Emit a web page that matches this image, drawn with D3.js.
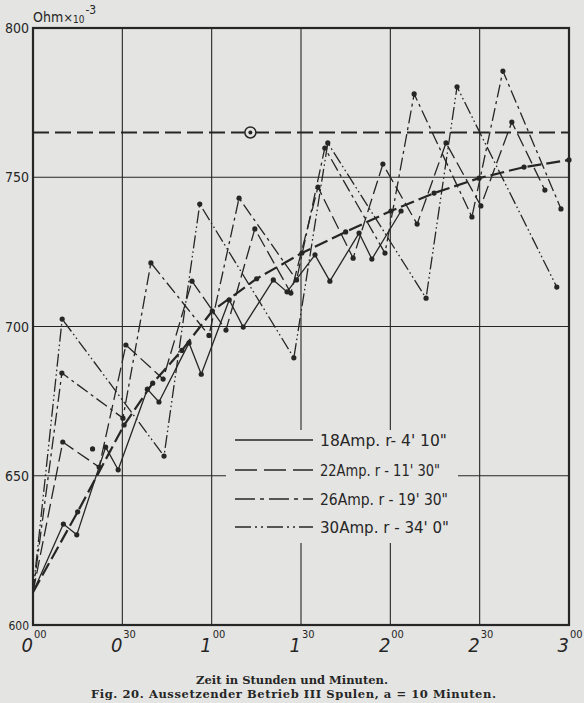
<!DOCTYPE html>
<html><head><meta charset="utf-8">
<script src="https://cdn.jsdelivr.net/npm/d3@7"></script>
<style>html,body{margin:0;padding:0;background:#e4e4e2;} svg{display:block}</style>
</head><body><svg id="c" width="584" height="703"></svg>
<script>
// ---- data ----
const yTicks = [600, 650, 700, 750, 800];
const xTicks = [0, 30, 60, 90, 120, 150, 180];
const xTickHour = ["0", "0", "1", "1", "2", "2", "3"];
const xTickMin = ["00", "30", "00", "30", "00", "30", "00"];

const t18 = [0, 10.2, 14.7, 24.4, 28.6, 38.4, 42.3, 52.4, 56.5, 65.9, 70.6, 80.7, 85.3, 94.7, 99.7, 109.5, 113.8, 123.6];
const v18 = [611, 633.8, 630.2, 659.6, 652, 679, 674.7, 694.5, 684, 708.9, 699.8, 715.6, 711.6, 724, 715.2, 731.3, 722.6, 738.7];

const t22 = [0, 10, 22.2, 31.2, 43.7, 53.4, 64.8, 74.5, 86.6, 95.7, 107.5, 117.5, 129, 138.7, 150.4, 160.8, 171.9];
const v22 = [611, 661.3, 652.9, 693.8, 682.4, 715.2, 698.8, 732.7, 711.2, 746.7, 722.9, 754.4, 734.3, 761.5, 740.4, 768.5, 745.7];

const t26 = [0, 9.7, 30.2, 39.6, 59.1, 69.2, 88.5, 98, 118.2, 128, 147.4, 157.8, 177.3];
const v26 = [611, 684.4, 669.3, 721.3, 697, 743, 715.6, 759.8, 724.6, 777.9, 736.7, 785.6, 739.4];

const t30 = [0, 9.8, 44, 56, 87.6, 99, 132, 142.4, 175.9];
const v30 = [611, 702.5, 656.6, 741, 689.5, 761.5, 709.5, 780.3, 713.2];

const tCurve = [0, 15, 30.6, 40.2, 50, 60.2, 75.1, 90.3, 105, 120.2, 134.7, 149.8, 164.9, 180];
const vCurve = [611, 637.9, 667, 681, 692, 705.2, 716, 724.6, 731.7, 738.7, 744.7, 749.7, 753.4, 755.8];

const steadyValue = 765;
const steadyMarkT = 73;
const strayT = [20];
const strayV = [659];

const legendLabels = ["18Amp. r- 4' 10\"", "22Amp. r - 11' 30\"", "26Amp. r - 19' 30\"", "30Amp. r - 34' 0\""];

// ---- drawing ----
const ink = "#262626";
const bg = "#e4e4e2";
const svg = d3.select("#c");
svg.append("rect").attr("width", 584).attr("height", 703).attr("fill", bg);

const x = d3.scaleLinear().domain([0, 180]).range([33, 569]);
const y = d3.scaleLinear().domain([600, 800]).range([625, 28]);

const g = svg.append("g");
// grid
g.selectAll(".hg").data(yTicks).join("line")
  .attr("x1", x(0)).attr("x2", x(180))
  .attr("y1", d => y(d)).attr("y2", d => y(d))
  .attr("stroke", ink).attr("stroke-width", 1.1);
g.selectAll(".vg").data(xTicks).join("line")
  .attr("x1", d => x(d)).attr("x2", d => x(d))
  .attr("y1", y(600)).attr("y2", y(800))
  .attr("stroke", ink).attr("stroke-width", 1.1);

// legend mask
svg.append("rect").attr("x", 226).attr("y", 430).attr("width", 232).attr("height", 113).attr("fill", bg);

// border
svg.append("rect").attr("x", x(0)).attr("y", y(800)).attr("width", x(180) - x(0)).attr("height", y(600) - y(800))
  .attr("fill", "none").attr("stroke", ink).attr("stroke-width", 2.2);

// steady line
svg.append("line").attr("x1", x(0)).attr("x2", x(180)).attr("y1", y(steadyValue)).attr("y2", y(steadyValue))
  .attr("stroke", ink).attr("stroke-width", 2.2).attr("stroke-dasharray", "16,6");
svg.append("circle").attr("cx", x(steadyMarkT)).attr("cy", y(steadyValue)).attr("r", 5.5)
  .attr("fill", bg).attr("stroke", ink).attr("stroke-width", 1.5);
svg.append("circle").attr("cx", x(steadyMarkT)).attr("cy", y(steadyValue)).attr("r", 2).attr("fill", ink);

const line = d3.line().x(d => x(d[0])).y(d => y(d[1]));
const zip = (a, b) => a.map((v, i) => [v, b[i]]);

const series = [
  { pts: zip(t18, v18), dash: null, w: 1.3 },
  { pts: zip(t22, v22), dash: "14,5", w: 1.3 },
  { pts: zip(t26, v26), dash: "13,4,3,4", w: 1.3 },
  { pts: zip(t30, v30), dash: "13,3,1.6,3,1.6,3", w: 1.3 },
  { pts: zip(tCurve, vCurve), dash: "14,5", w: 2.2 }
];
series.forEach(s => {
  svg.append("path").attr("d", line(s.pts)).attr("fill", "none").attr("stroke", ink)
    .attr("stroke-width", s.w).attr("stroke-dasharray", s.dash).attr("stroke-linejoin", "round");
  svg.selectAll(null).data(s.pts.slice(1)).join("circle")
    .attr("cx", d => x(d[0])).attr("cy", d => y(d[1])).attr("r", 2.6).attr("fill", ink);
});
svg.selectAll(null).data(zip(strayT, strayV)).join("circle")
  .attr("cx", d => x(d[0])).attr("cy", d => y(d[1])).attr("r", 2.6).attr("fill", ink);

// legend
const lf = "'DejaVu Sans Condensed','Liberation Sans Narrow',sans-serif";
const legDash = [null, "22,7", "20,5,4,5", "16,4,2,4,2,4"];
const legY = [440, 470, 499, 527];
const legLen = [127, 120, 128, 129];
legendLabels.forEach((lab, i) => {
  svg.append("line").attr("x1", 235).attr("x2", 313).attr("y1", legY[i]).attr("y2", legY[i])
    .attr("stroke", ink).attr("stroke-width", 1.4).attr("stroke-dasharray", legDash[i]);
  svg.append("text").attr("x", 320).attr("y", legY[i] + 6).text(lab)
    .attr("font-family", lf).attr("font-size", 16).attr("fill", ink)
    .attr("textLength", legLen[i]).attr("lengthAdjust", "spacingAndGlyphs");
});

// y tick labels
svg.selectAll(null).data(yTicks).join("text")
  .attr("x", 29).attr("y", d => y(d) + 5).attr("text-anchor", "end")
  .attr("font-family", lf).attr("font-size", d => d === 600 ? 12 : 14).attr("fill", ink)
  .text(d => d);

// unit label
const ul = svg.append("text").attr("x", 33).attr("y", 22).attr("font-family", lf).attr("fill", ink).attr("font-size", 14);
ul.append("tspan").text("Ohm");
ul.append("tspan").text("×").attr("font-size", 13);
ul.append("tspan").text("10").attr("font-size", 10).attr("dy", 1);
ul.append("tspan").text("-3").attr("font-size", 12).attr("dy", -9).attr("dx", 1);

// x tick labels
xTicks.forEach((t, i) => {
  svg.append("text").attr("x", x(t)).attr("y", 652).attr("text-anchor", "end")
    .attr("font-family", lf).attr("font-style", "italic").attr("font-size", 20).attr("fill", ink).text(xTickHour[i]);
  svg.append("text").attr("x", x(t) + 1).attr("y", 638)
    .attr("font-family", lf).attr("font-size", 11).attr("fill", ink).text(xTickMin[i]);
});

// captions
svg.append("text").attr("x", 292).attr("y", 684).attr("text-anchor", "middle")
  .attr("font-family", "'DejaVu Serif',serif").attr("font-weight", "bold").attr("font-size", 11.5).attr("fill", ink)
  .text("Zeit in Stunden und Minuten.");
svg.append("text").attr("x", 91).attr("y", 698)
  .attr("font-family", "'DejaVu Serif',serif").attr("font-weight", "bold").attr("font-size", 11.5).attr("fill", ink)
  .attr("textLength", 405).attr("lengthAdjust", "spacing")
  .text("Fig. 20.   Aussetzender Betrieb III Spulen, a = 10 Minuten.");
</script></body></html>
